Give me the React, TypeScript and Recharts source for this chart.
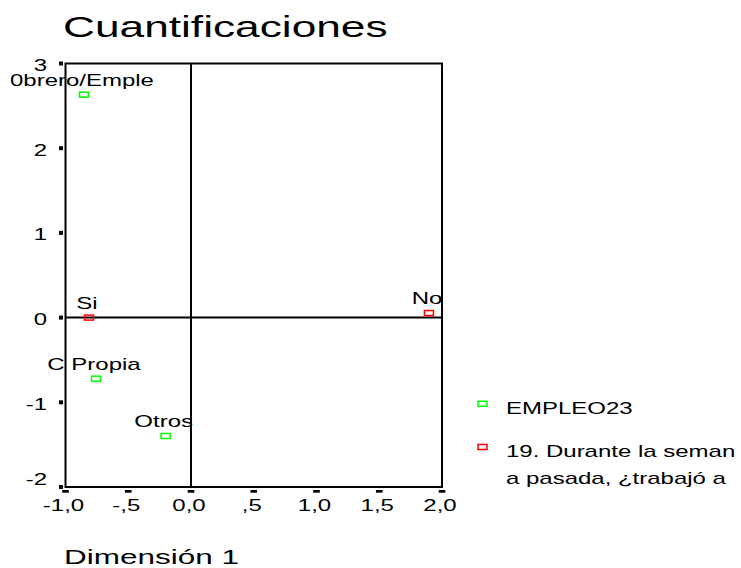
import React from "react";
import {
  Legend,
  ReferenceArea,
  ReferenceLine,
  Scatter,
  ScatterChart,
  XAxis,
  YAxis,
} from "recharts";

// EMPLEO23 categories
const empleoNames = ["0brero/Emple", "C Propia", "Otros"];
const empleoDim1 = [-0.853, -0.757, -0.202];
const empleoDim2 = [2.632, -0.721, -1.398];

// pregunta 19 categories
const trabajoNames = ["Si", "No"];
const trabajoDim1 = [-0.813, 1.896];
const trabajoDim2 = [0.0, 0.054];

const seriesNames = ["EMPLEO23", "19. Durante la semana pasada, ¿trabajó a"];
const seriesColors = ["#00ff00", "#ff0000"];

const xTicks = [-1, -0.5, 0, 0.5, 1, 1.5, 2];
const yTicks = [-2, -1, 0, 1, 2, 3];

const FONT = "'Liberation Sans', Arial, sans-serif";
const SX = 1.5; // the reference is stretched horizontally

const empleoData = empleoNames.map((name, i) => ({
  name,
  x: empleoDim1[i],
  y: empleoDim2[i],
}));

const trabajoData = trabajoNames.map((name, i) => ({
  name,
  x: trabajoDim1[i],
  y: trabajoDim2[i],
}));

function Stretch({
  x,
  y,
  anchor = "start",
  size = 16,
  children,
}: {
  x: number;
  y: number;
  anchor?: "start" | "middle" | "end";
  size?: number;
  children: React.ReactNode;
}) {
  return (
    <text
      transform={`translate(${x} ${y}) scale(${SX} 1)`}
      textAnchor={anchor}
      fontSize={size}
      fontFamily={FONT}
      fill="#000"
    >
      {children}
    </text>
  );
}

/**
 * -1 -> "-1,0", 0.5 -> ",5"
 */
function fmtX(v: number) {
  const s = Math.abs(v).toFixed(1).replace(".", ",");
  const t = s.startsWith("0,") && v !== 0 ? s.slice(1) : s;
  return (v < 0 ? "-" : "") + t;
}

function XTick(props: any) {
  const { x, y, payload } = props;
  return (
    <g>
      <rect x={x - 3.3} y={y + 3} width={6.6} height={2.7} fill="#000" />
      <Stretch x={x - 2} y={y + 23.7} anchor="middle">
        {fmtX(payload.value)}
      </Stretch>
    </g>
  );
}

function YTick(props: any) {
  const { x, y, payload } = props;
  const baseline = payload.value === -2 ? y - 2 : y + 7.5;
  return (
    <g>
      <rect x={x - 6.5} y={y - 2} width={4} height={4} fill="#000" />
      <Stretch x={x - 18.5} y={baseline} anchor="end">
        {String(payload.value)}
      </Stretch>
    </g>
  );
}

function Marker(props: any) {
  const { cx, cy, fill, payload } = props;
  return (
    <g>
      <rect
        x={cx - 4.5}
        y={cy - 2.5}
        width={9}
        height={5}
        fill="none"
        stroke={fill}
        strokeWidth={1.5}
      />
      <Stretch x={cx - 2} y={cy - 9} anchor="middle">
        {payload.name}
      </Stretch>
    </g>
  );
}

function wrap(text: string, n: number) {
  const lines: string[] = [];
  for (let i = 0; i < text.length; i += n) lines.push(text.slice(i, i + n));
  return lines;
}

function LegendBox(props: any) {
  const payload = [...(props.payload || [])].sort(
    (a: any, b: any) =>
      seriesNames.indexOf(a.value) - seriesNames.indexOf(b.value)
  );
  return (
    <svg
      width={271}
      height={110}
      style={{ position: "absolute", left: 0, top: 0, overflow: "visible" }}
    >
      {payload.map((entry: any, i: number) => {
        const top = i * 43.3;
        return (
          <g key={i}>
            <rect
              x={8}
              y={top + 11.2}
              width={9}
              height={5}
              fill="none"
              stroke={entry.color}
              strokeWidth={1.5}
            />
            {wrap(String(entry.value), 20).map((line, j) => (
              <Stretch key={j} x={36} y={top + 24 + j * 26.7}>
                {line}
              </Stretch>
            ))}
          </g>
        );
      })}
    </svg>
  );
}

export default function App() {
  return (
    <div
      style={{
        position: "absolute",
        left: 0,
        top: 0,
        width: 741,
        height: 568,
        background: "#fff",
      }}
    >
      <ScatterChart
        width={741}
        height={568}
        margin={{ top: 63.5, right: 299, bottom: 51, left: 5.5 }}
      >
        <XAxis
          type="number"
          dataKey="x"
          domain={[-1, 2]}
          ticks={xTicks}
          interval={0}
          height={30}
          axisLine={false}
          tickLine={false}
          tickSize={0}
          tickMargin={0}
          tick={<XTick />}
        />
        <YAxis
          type="number"
          dataKey="y"
          domain={[-2, 3]}
          ticks={yTicks}
          interval={0}
          width={60}
          axisLine={false}
          tickLine={false}
          tickSize={0}
          tickMargin={0}
          tick={<YTick />}
        />

        <ReferenceArea
          x1={-1}
          x2={2}
          y1={-2}
          y2={3}
          fill="none"
          stroke="#000"
          strokeWidth={2}
        />
        <ReferenceLine x={0} stroke="#000" strokeWidth={2} />
        <ReferenceLine y={0} stroke="#000" strokeWidth={2} />

        <Legend
          content={<LegendBox />}
          wrapperStyle={{
            position: "absolute",
            left: 470,
            top: 390,
            width: 0,
            height: 0,
            overflow: "visible",
          }}
        />

        <Scatter
          name={seriesNames[0]}
          data={empleoData}
          fill={seriesColors[0]}
          shape={<Marker />}
          isAnimationActive={false}
        />
        <Scatter
          name={seriesNames[1]}
          data={trabajoData}
          fill={seriesColors[1]}
          shape={<Marker />}
          isAnimationActive={false}
        />
      </ScatterChart>

      {/* title and axis title */}
      <svg
        width={741}
        height={568}
        style={{ position: "absolute", left: 0, top: 0, pointerEvents: "none" }}
      >
        <Stretch x={63} y={37.3} size={29.5}>
          Cuantificaciones
        </Stretch>
        <Stretch x={64} y={563.5} size={21}>
          Dimensión 1
        </Stretch>
      </svg>
    </div>
  );
}
